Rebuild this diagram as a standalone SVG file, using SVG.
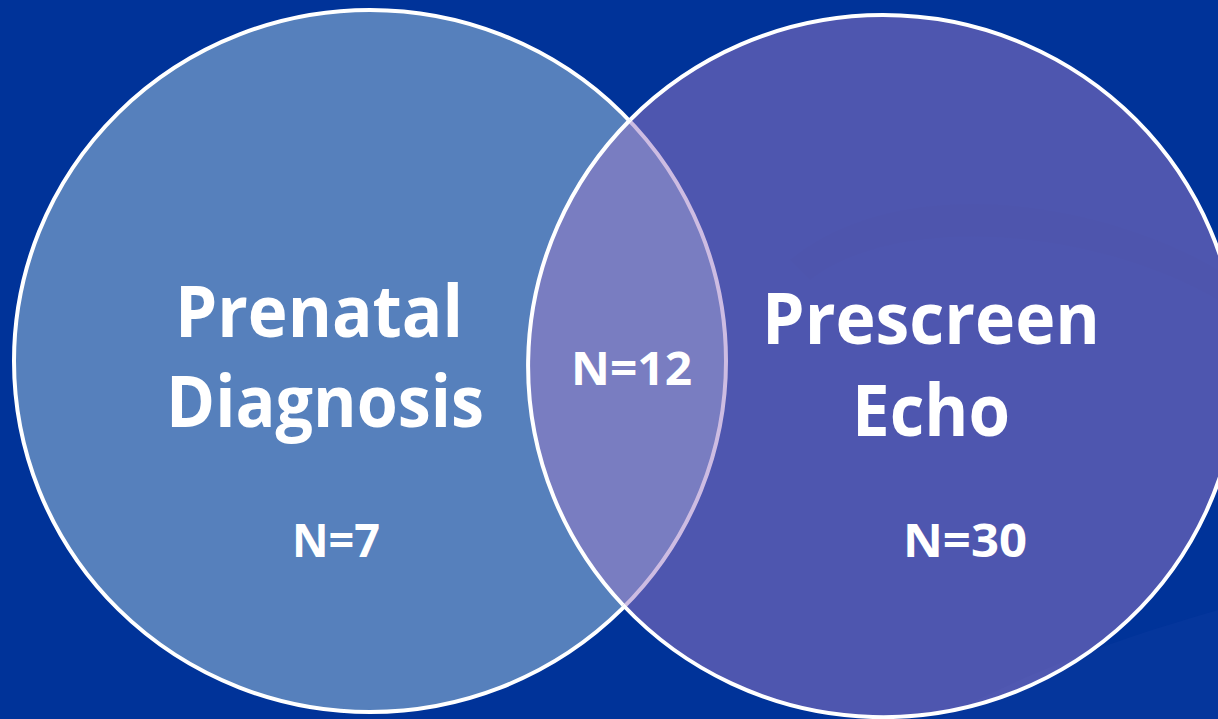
<svg xmlns="http://www.w3.org/2000/svg" width="1218" height="719" viewBox="0 0 1218 719">
<style>
.big{font-family:"Open Sans","Liberation Sans",sans-serif;font-weight:700;font-size:72px;fill:#ffffff}
.num{font-family:"Open Sans","Liberation Sans",sans-serif;font-weight:700;font-size:46px;fill:#ffffff}
.ring{fill:none;stroke:#ffffff;stroke-width:4}
</style>
<rect x="0" y="0" width="1218" height="719" fill="#003399"/>
<path d="M790 260 C 900 170, 1100 200, 1218 270 L1218 300 C 1100 230, 900 210, 810 280 Z" fill="#002f8f" opacity="0.35"/>
<path d="M940 719 C 1050 660, 1150 630, 1218 610 L1218 719 Z" fill="#0a3aa0" opacity="0.5"/>
<g id="prenatal">
<ellipse cx="370" cy="361" rx="356" ry="351" fill="#5680BC"/>
<ellipse class="ring" cx="370" cy="361" rx="356" ry="351"/>
</g>
<g id="prescreen">
<ellipse cx="882" cy="365" rx="355" ry="351" fill="#9C79C5" fill-opacity="0.5"/>
<path class="ring" d="M630 120 A355 351 0 1 1 623 605"/>
<path class="ring" d="M630 120 A355 351 0 0 0 623 605" stroke="#ffffff"/>
</g>
<g id="labels">
<text class="big" x="175" y="337" textLength="288" lengthAdjust="spacingAndGlyphs">Prenatal</text>
<text class="big" x="166" y="427" textLength="318" lengthAdjust="spacingAndGlyphs">Diagnosis</text>
<text class="big" x="762" y="344" textLength="338" lengthAdjust="spacingAndGlyphs">Prescreen</text>
<text class="big" x="852" y="436" textLength="158" lengthAdjust="spacingAndGlyphs">Echo</text>
<text class="num" x="571" y="385" textLength="121" lengthAdjust="spacingAndGlyphs">N=12</text>
<text class="num" x="292" y="557" textLength="88" lengthAdjust="spacingAndGlyphs">N=7</text>
<text class="num" x="903" y="557" textLength="124" lengthAdjust="spacingAndGlyphs">N=30</text>
</g>
</svg>
